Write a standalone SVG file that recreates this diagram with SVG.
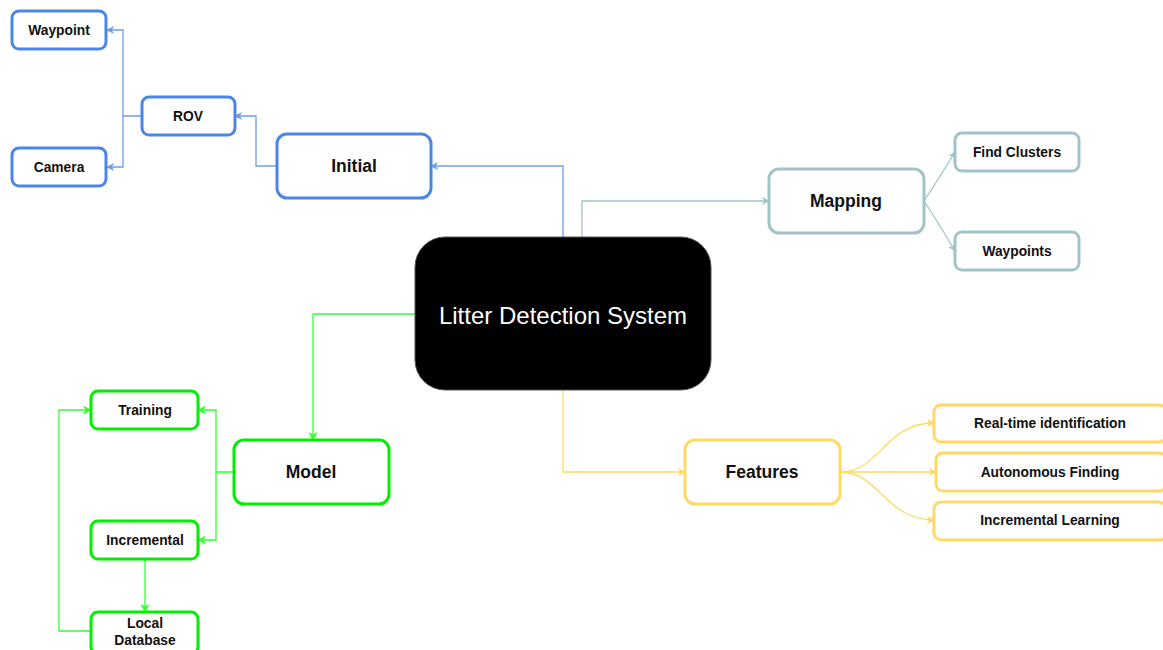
<svg xmlns="http://www.w3.org/2000/svg" width="1163" height="650" viewBox="0 0 1163 650">
  <style>
    .box { fill: #ffffff; stroke-width: 3; }
    .blue { stroke: #4a86e8; }
    .teal { stroke: #a2c4c9; }
    .green { stroke: #00f000; }
    .gold { stroke: #ffd966; }
    .lbl { font-family: "Liberation Sans", Arial, sans-serif; font-weight: bold; fill: #111111; text-anchor: middle; dominant-baseline: central; }
    .sm { font-size: 13.8px; }
    .md { font-size: 17.5px; }
    .edge { fill: none; stroke-width: 1.3; }
    .eb { stroke: #6d9eeb; }
    .et { stroke: #a2c4c9; }
    .eg { stroke: #33ff33; }
    .ey { stroke: #ffd966; }
  </style>
  <defs>
    <marker id="ab" viewBox="0 0 10 10" refX="9" refY="5" markerWidth="8" markerHeight="8" orient="auto" markerUnits="userSpaceOnUse">
      <path d="M0,0 L10,5 L0,10 L3,5 Z" fill="#6d9eeb"/>
    </marker>
    <marker id="at" viewBox="0 0 10 10" refX="9" refY="5" markerWidth="8" markerHeight="8" orient="auto" markerUnits="userSpaceOnUse">
      <path d="M0,0 L10,5 L0,10 L3,5 Z" fill="#a2c4c9"/>
    </marker>
    <marker id="ag" viewBox="0 0 10 10" refX="9" refY="5" markerWidth="9" markerHeight="9" orient="auto" markerUnits="userSpaceOnUse">
      <path d="M0,0 L10,5 L0,10 L3,5 Z" fill="#33ff33"/>
    </marker>
    <marker id="ay" viewBox="0 0 10 10" refX="9" refY="5" markerWidth="8" markerHeight="8" orient="auto" markerUnits="userSpaceOnUse">
      <path d="M0,0 L10,5 L0,10 L3,5 Z" fill="#ffd966"/>
    </marker>
  </defs>
  <rect width="1163" height="650" fill="#ffffff"/>

  <g id="connectors">
    <!-- blue branch -->
    <path class="edge eb" d="M563,237 V166 H431" marker-end="url(#ab)"/>
    <path class="edge eb" d="M277,166 H256 V116 H235" marker-end="url(#ab)"/>
    <path class="edge eb" d="M142,116 H123 V30 H107" marker-end="url(#ab)"/>
    <path class="edge eb" d="M123,116 V167 H107" marker-end="url(#ab)"/>
    <!-- teal branch -->
    <path class="edge et" d="M582,237 V201 H769" marker-end="url(#at)"/>
    <path class="edge et" d="M924,201 Q938,180 955,152" marker-end="url(#at)"/>
    <path class="edge et" d="M924,201 Q938,222 955,251" marker-end="url(#at)"/>
    <!-- green branch -->
    <path class="edge eg" d="M415,314 H313 V440" marker-end="url(#ag)"/>
    <path class="edge eg" d="M234,472 H216 V410 H198" marker-end="url(#ag)"/>
    <path class="edge eg" d="M216,472 V540 H198" marker-end="url(#ag)"/>
    <path class="edge eg" d="M145,559 V612" marker-end="url(#ag)"/>
    <path class="edge eg" d="M91,631 H59 V410 H91" marker-end="url(#ag)"/>
    <!-- gold branch -->
    <path class="edge ey" d="M563,390 V472 H685" marker-end="url(#ay)"/>
    <path class="edge ey" d="M840,472 C880,472 885,423 934,423" marker-end="url(#ay)"/>
    <path class="edge ey" d="M840,472 H936" marker-end="url(#ay)"/>
    <path class="edge ey" d="M840,472 C880,472 885,520 934,520" marker-end="url(#ay)"/>
  </g>

  <g id="root">
    <rect x="415" y="237" width="296" height="153" rx="30" fill="#000000" stroke="#555555" stroke-width="1"/>
    <text x="563" y="315" font-family="Liberation Sans, Arial, sans-serif" font-size="24" fill="#ffffff" text-anchor="middle" dominant-baseline="central">Litter Detection System</text>
  </g>

  <g id="initial">
    <rect class="box blue" x="277" y="134" width="154" height="64" rx="10"/>
    <text class="lbl md" x="354" y="166">Initial</text>
  </g>
  <g id="rov">
    <rect class="box blue" x="142" y="97" width="93" height="38" rx="7"/>
    <text class="lbl sm" x="188" y="116">ROV</text>
  </g>
  <g id="waypoint">
    <rect class="box blue" x="12" y="11" width="94" height="38" rx="7"/>
    <text class="lbl sm" x="59" y="30">Waypoint</text>
  </g>
  <g id="camera">
    <rect class="box blue" x="12" y="148" width="94" height="38" rx="7"/>
    <text class="lbl sm" x="59" y="167">Camera</text>
  </g>

  <g id="mapping">
    <rect class="box teal" x="769" y="169" width="155" height="64" rx="10"/>
    <text class="lbl md" x="846" y="201">Mapping</text>
  </g>
  <g id="find-clusters">
    <rect class="box teal" x="955" y="133" width="124" height="38" rx="7"/>
    <text class="lbl sm" x="1017" y="152">Find Clusters</text>
  </g>
  <g id="waypoints">
    <rect class="box teal" x="955" y="232" width="124" height="38" rx="7"/>
    <text class="lbl sm" x="1017" y="251">Waypoints</text>
  </g>

  <g id="model">
    <rect class="box green" x="234" y="440" width="155" height="64" rx="10"/>
    <text class="lbl md" x="311" y="472">Model</text>
  </g>
  <g id="training">
    <rect class="box green" x="91" y="391" width="107" height="38" rx="7"/>
    <text class="lbl sm" x="145" y="410">Training</text>
  </g>
  <g id="incremental">
    <rect class="box green" x="91" y="521" width="107" height="38" rx="7"/>
    <text class="lbl sm" x="145" y="540">Incremental</text>
  </g>
  <g id="local-database">
    <rect class="box green" x="91" y="612" width="107" height="42" rx="7"/>
    <text class="lbl sm" x="145" y="623">Local</text>
    <text class="lbl sm" x="145" y="640">Database</text>
  </g>

  <g id="features">
    <rect class="box gold" x="685" y="440" width="155" height="64" rx="10"/>
    <text class="lbl md" x="762" y="472">Features</text>
  </g>
  <g id="realtime">
    <rect class="box gold" x="934" y="405" width="232" height="37" rx="7"/>
    <text class="lbl sm" x="1050" y="423">Real-time identification</text>
  </g>
  <g id="autonomous">
    <rect class="box gold" x="936" y="453" width="230" height="38" rx="7"/>
    <text class="lbl sm" x="1050" y="472">Autonomous Finding</text>
  </g>
  <g id="incremental-learning">
    <rect class="box gold" x="934" y="502" width="232" height="38" rx="7"/>
    <text class="lbl sm" x="1050" y="520">Incremental Learning</text>
  </g>
</svg>
